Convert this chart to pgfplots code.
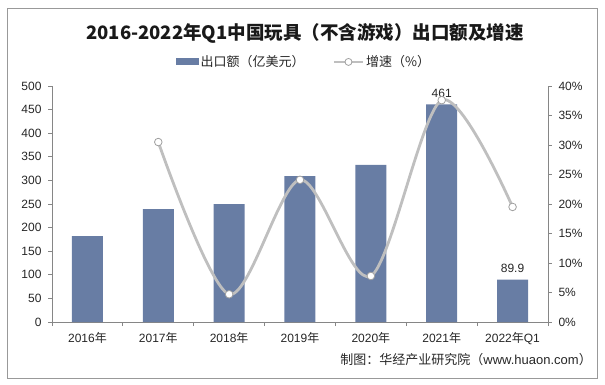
\documentclass[border=0pt]{standalone}
\usepackage{fontspec}
\usepackage{pgfplots}
\pgfplotsset{compat=1.18}
\setmainfont{Liberation Sans}
\newfontfamily\cjk{Noto Sans CJK SC}
\definecolor{barc}{RGB}{104,125,164}
\definecolor{linec}{RGB}{191,191,191}
\definecolor{axc}{RGB}{134,134,134}
\definecolor{mkc}{RGB}{160,160,160}
\begin{document}
\begin{tikzpicture}[x=1pt,y=1pt]
\path[use as bounding box] (0,0) rectangle (605,384);
\draw[black!40, line width=0.8pt] (7,6) rectangle (597,376);
\node[font=\cjk\bfseries\fontsize{18.5}{20}\selectfont, text=black!90] at (305,351) {2016-2022年Q1中国玩具（不含游戏）出口额及增速};
\node[font=\fontsize{13}{15}\selectfont, anchor=east, inner sep=0pt, text=black!85] at (592,24) {{\cjk 制图：华经产业研究院（}www.huaon.com{\cjk ）}};
\begin{axis}[
  at={(52pt,62pt)}, anchor=south west, scale only axis,
  width=496pt, height=236pt,
  xmin=-0.5, xmax=6.5, ymin=0, ymax=500,
  axis y line*=left, axis x line*=bottom,
  axis line style={axc, line width=0.8pt},
  ytick={0,50,...,500},
  yticklabels={0,50,100,150,200,250,300,350,400,450,500},
  xtick={0,...,6},
  xticklabels={2016{\cjk 年},2017{\cjk 年},2018{\cjk 年},2019{\cjk 年},2020{\cjk 年},2021{\cjk 年},2022{\cjk 年}Q1},
  major x tick style={draw=none},
  minor xtick={-0.5,0.5,...,6.5},
  tick align=outside,
  major tick length=4pt, minor tick length=4pt,
  every tick/.style={axc, line width=0.8pt},
  ticklabel style={font=\fontsize{12}{14}\selectfont, text=black!85},
  x tick label style={yshift=-3pt},
  y tick label style={xshift=-3pt},
  ybar, bar width=31pt, bar shift=0pt,
  nodes near coords, point meta=explicit symbolic,
  nodes near coords style={font=\fontsize{12}{14}\selectfont, text=black!85, anchor=south, yshift=3pt},
  legend style={at={(0.508,1.102)}, anchor=center, legend columns=2, draw=none, fill=none,
    font=\cjk\fontsize{13}{15}\selectfont, text=black!85,
    /tikz/every even column/.append style={column sep=26pt}},
  clip=false
]
\addplot[fill=barc, draw=none,
  legend image code/.code={\fill[barc] (0pt,-3.5pt) rectangle (23pt,3.5pt);}]
  coordinates {(0,182) [] (1,239) [] (2,250) [] (3,309) [] (4,333) [] (5,461) [461] (6,89.9) [89.9]};
\addlegendentry{出口额（亿美元）}
\addlegendimage{legend image code/.code={\draw[linec, line width=2.5pt](0pt,0pt)--(29pt,0pt); \draw[mkc, fill=white, line width=0.8pt] (14.5pt,0pt) circle (3.5pt);}}
\addlegendentry{增速（\%）}
\end{axis}
\begin{axis}[
  at={(52pt,62pt)}, anchor=south west, scale only axis,
  width=496pt, height=236pt,
  xmin=-0.5, xmax=6.5, ymin=0, ymax=40,
  axis y line*=right, axis x line=none,
  axis line style={axc, line width=0.8pt},
  ytick={0,5,...,40},
  yticklabels={0\%,5\%,10\%,15\%,20\%,25\%,30\%,35\%,40\%},
  tick align=outside, major tick length=4pt,
  every tick/.style={axc, line width=0.8pt},
  ticklabel style={font=\fontsize{12}{14}\selectfont, text=black!85},
  y tick label style={xshift=3pt},
  clip=false
]
\addplot[linec, line width=2.8pt, smooth, mark=*, mark size=3.8pt,
  mark options={draw=mkc, fill=white, line width=0.8pt}]
  coordinates {(1,30.5) (2,4.7) (3,24.1) (4,7.8) (5,37.6) (6,19.5)};
\end{axis}
\end{tikzpicture}
\end{document}
